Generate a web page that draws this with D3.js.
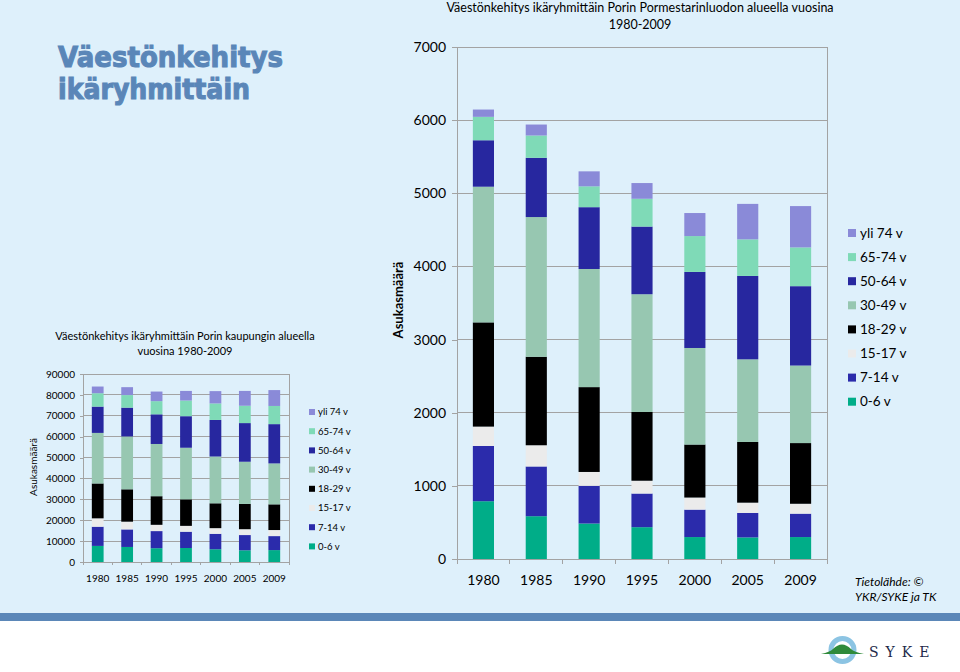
<!DOCTYPE html>
<html><head><meta charset="utf-8">
<script src="https://cdn.jsdelivr.net/npm/d3@7"></script>
<style>body{margin:0;background:#fff}svg{display:block}</style>
</head><body>
<svg id="c" width="960" height="672"></svg>
<script>
// ---------- DATA ----------
const years = ["1980", "1985", "1990", "1995", "2000", "2005", "2009"];
const ageGroups = ["0-6 v", "7-14 v", "15-17 v", "18-29 v", "30-49 v", "50-64 v", "65-74 v", "yli 74 v"];
const groupColors = ["#00ad88", "#2b2bab", "#ebebeb", "#000000", "#97c7b1", "#27279f", "#7fdab7", "#8a8ad8"];

// Pori city (left chart)
const pori_0_6   = [7700, 7200, 6600, 6700, 6100, 5600, 5700];
const pori_7_14  = [9200, 8400, 8200, 7800, 7400, 7300, 6700];
const pori_15_17 = [4000, 3700, 3000, 2800, 2700, 2800, 2900];
const pori_18_29 = [16700, 15500, 13700, 12700, 11900, 12100, 12300];
const pori_30_49 = [24200, 25300, 25000, 24700, 22400, 20200, 19600];
const pori_50_64 = [12600, 13800, 14200, 15100, 17500, 18500, 18800];
const pori_65_74 = [6400, 6000, 6300, 7500, 7900, 8300, 8700];
const pori_yli74 = [3200, 3800, 4600, 4600, 5900, 7100, 7600];

// Pormestarinluoto (right chart)
const pl_0_6   = [790, 585, 485, 435, 300, 295, 300];
const pl_7_14  = [755, 680, 515, 460, 375, 335, 320];
const pl_15_17 = [265, 290, 190, 175, 165, 140, 135];
const pl_18_29 = [1425, 1210, 1160, 940, 725, 830, 830];
const pl_30_49 = [1855, 1910, 1615, 1610, 1320, 1130, 1060];
const pl_50_64 = [635, 810, 845, 925, 1040, 1140, 1085];
const pl_65_74 = [320, 305, 285, 380, 490, 500, 530];
const pl_yli74 = [100, 150, 205, 215, 315, 485, 565];

const leftTicks = [0, 10000, 20000, 30000, 40000, 50000, 60000, 70000, 80000, 90000];
const rightTicks = [0, 1000, 2000, 3000, 4000, 5000, 6000, 7000];

const pageTitle = ["Väestönkehitys", "ikäryhmittäin"];
const leftTitle = ["Väestönkehitys ikäryhmittäin Porin kaupungin alueella", "vuosina 1980-2009"];
const rightTitle = ["Väestönkehitys ikäryhmittäin Porin Pormestarinluodon alueella vuosina", "1980-2009"];
const yAxisTitle = "Asukasmäärä";
const sourceText = ["Tietolähde: ©", "YKR/SYKE ja TK"];

// ---------- BUILD ROWS ----------
function rows(series) {
  return years.map((yr, i) => {
    const r = { year: yr };
    ageGroups.forEach((g, k) => r[g] = series[k][i]);
    return r;
  });
}
const leftRows = rows([pori_0_6, pori_7_14, pori_15_17, pori_18_29, pori_30_49, pori_50_64, pori_65_74, pori_yli74]);
const rightRows = rows([pl_0_6, pl_7_14, pl_15_17, pl_18_29, pl_30_49, pl_50_64, pl_65_74, pl_yli74]);
const color = d3.scaleOrdinal().domain(ageGroups).range(groupColors);
const stack = d3.stack().keys(ageGroups);

const FONT = "Lato, 'Open Sans', sans-serif";
const GRID = "#a3a3a3";
const svg = d3.select("#c");

// ---------- BACKGROUND ----------
svg.append("rect").attr("x", 0).attr("y", 0).attr("width", 960).attr("height", 672).attr("fill", "#ffffff");
svg.append("rect").attr("x", 0).attr("y", 0).attr("width", 960).attr("height", 613).attr("fill", "#def0fb");
svg.append("rect").attr("x", 0).attr("y", 613).attr("width", 960).attr("height", 8).attr("fill", "#5b87b8");

// Page title
svg.append("text").attr("x", 58).attr("y", 67).text(pageTitle[0])
  .attr("font-family", "'DejaVu Sans', sans-serif").attr("font-weight", "bold").attr("font-size", 28)
  .attr("fill", "#5a86b8").attr("stroke", "#5a86b8").attr("stroke-width", 1.1)
  .attr("textLength", 225).attr("lengthAdjust", "spacingAndGlyphs");
svg.append("text").attr("x", 58).attr("y", 99).text(pageTitle[1])
  .attr("font-family", "'DejaVu Sans', sans-serif").attr("font-weight", "bold").attr("font-size", 28)
  .attr("fill", "#5a86b8").attr("stroke", "#5a86b8").attr("stroke-width", 1.1)
  .attr("textLength", 192).attr("lengthAdjust", "spacingAndGlyphs");

// ---------- CHART DRAWER ----------
function drawChart(o) {
  const g = svg.append("g");
  const x = d3.scaleBand().domain(years).range([o.x0, o.x1]).paddingInner(0.6).paddingOuter(0.3);
  const y = d3.scaleLinear().domain([0, o.max]).range([o.y0, o.y1]);

  // gridlines
  g.selectAll(".grid").data(o.ticks).join("line")
    .attr("x1", o.x0).attr("x2", o.x1).attr("y1", d => y(d)).attr("y2", d => y(d))
    .attr("stroke", GRID).attr("stroke-width", 1).attr("shape-rendering", "crispEdges");
  // right border
  g.append("line").attr("x1", o.x1).attr("x2", o.x1).attr("y1", y(o.max)).attr("y2", y(0))
    .attr("stroke", GRID).attr("shape-rendering", "crispEdges");

  // y axis
  const ya = g.append("g").attr("transform", `translate(${o.x0},0)`)
    .call(d3.axisLeft(y).tickValues(o.ticks).tickSize(o.tickLen).tickPadding(o.tickPad).tickFormat(d3.format("d")));
  ya.select(".domain").attr("stroke", GRID).attr("shape-rendering", "crispEdges");
  ya.selectAll(".tick line").attr("stroke", GRID).attr("shape-rendering", "crispEdges");
  ya.selectAll("text").attr("font-family", FONT).attr("font-size", o.fs).attr("fill", "#000");

  // x axis boundary ticks
  const bounds = d3.range(years.length + 1).map(i => o.x0 + i * x.step());
  g.selectAll(".xt").data(bounds).join("line")
    .attr("x1", d => d).attr("x2", d => d).attr("y1", y(0)).attr("y2", y(0) + o.tickLen)
    .attr("stroke", GRID).attr("shape-rendering", "crispEdges");

  // bars
  g.selectAll(".layer").data(stack(o.rows)).join("g")
    .attr("fill", d => color(d.key))
    .selectAll("rect").data(d => d).join("rect")
    .attr("x", d => x(d.data.year)).attr("width", x.bandwidth())
    .attr("y", d => y(d[1])).attr("height", d => y(d[0]) - y(d[1]));

  // x labels
  g.selectAll(".xl").data(years).join("text")
    .attr("x", d => x(d) + x.bandwidth() / 2).attr("y", o.xLabelY)
    .attr("text-anchor", "middle").attr("font-family", FONT).attr("font-size", o.fs).text(d => d);

  // y title
  g.append("text").attr("transform", `translate(${o.ytX},${o.ytY}) rotate(-90)`)
    .attr("text-anchor", "middle").attr("font-family", FONT).attr("font-size", o.ytFs)
    .attr("font-weight", o.ytBold ? "bold" : "normal").text(yAxisTitle);

  // title
  o.title.forEach((t, i) => g.append("text").attr("x", o.titleX).attr("y", o.titleY + i * o.titleStep)
    .attr("text-anchor", "middle").attr("font-family", FONT).attr("font-size", o.titleFs).text(t));

  // legend
  const leg = g.selectAll(".leg").data(ageGroups.slice().reverse()).join("g")
    .attr("transform", (d, i) => `translate(${o.legX},${o.legY + i * o.legStep})`);
  leg.append("rect").attr("x", 0).attr("y", -o.legSq / 2).attr("width", o.legSq).attr("height", o.legSq)
    .attr("fill", d => color(d));
  leg.append("text").attr("x", o.legSq + o.legGap).attr("y", 0).attr("dy", "0.35em")
    .attr("font-family", FONT).attr("font-size", o.legFs).text(d => d);
}

drawChart({
  rows: leftRows, x0: 83, x1: 289, y0: 562, y1: 374, max: 90000, ticks: leftTicks,
  tickLen: 3, tickPad: 5, fs: 10, xLabelY: 582,
  ytX: 37, ytY: 467, ytFs: 10, ytBold: false,
  title: leftTitle, titleX: 185, titleY: 340, titleStep: 15, titleFs: 11,
  legX: 309, legY: 412, legStep: 19.2, legSq: 6, legGap: 3, legFs: 9.5
});

drawChart({
  rows: rightRows, x0: 457, x1: 827, y0: 559, y1: 47, max: 7000, ticks: rightTicks,
  tickLen: 5, tickPad: 6, fs: 14, xLabelY: 585,
  ytX: 403, ytY: 300, ytFs: 13, ytBold: true,
  title: rightTitle, titleX: 640, titleY: 12, titleStep: 17, titleFs: 12.5,
  legX: 848, legY: 233, legStep: 24.1, legSq: 8, legGap: 4, legFs: 13.5
});

// source
sourceText.forEach((t, i) => svg.append("text").attr("x", 855).attr("y", 586 + i * 15)
  .attr("font-family", FONT).attr("font-style", "italic").attr("font-size", 12).text(t));

// SYKE logo
const logo = svg.append("g");
logo.append("circle").attr("cx", 842.5).attr("cy", 650).attr("r", 11.5)
  .attr("fill", "none").attr("stroke", "#8cc4e3").attr("stroke-width", 5);
logo.append("path")
  .attr("d", "M821,654 Q830,652 833,649 Q842,640 851,649 Q854,652 864,654 Z")
  .attr("fill", "#2f8a3a");
logo.append("text").attr("x", 869).attr("y", 657).attr("font-family", "'DejaVu Serif', 'Liberation Serif', serif")
  .attr("font-size", 14).attr("letter-spacing", 7).attr("fill", "#1d2a4a").text("SYKE");
</script>
</body></html>
